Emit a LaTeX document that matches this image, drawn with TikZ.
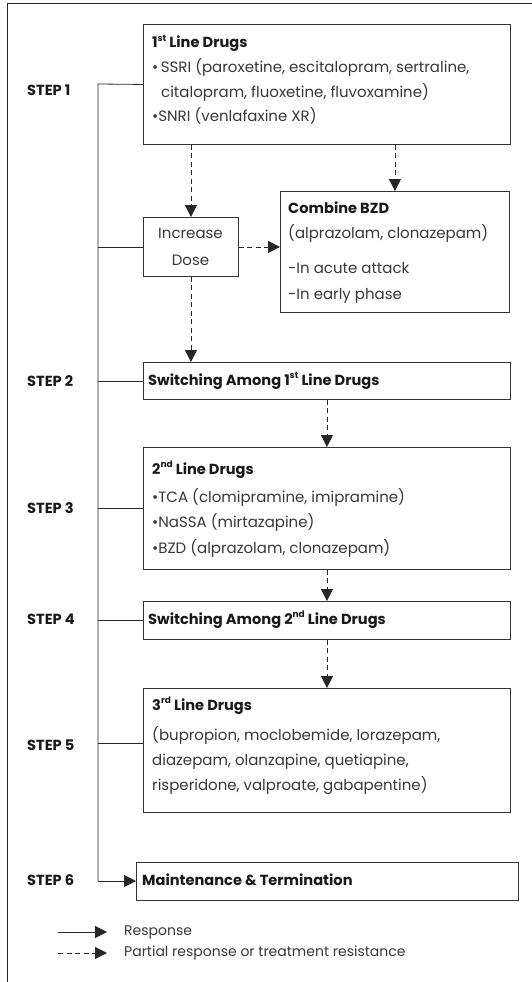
\documentclass[tikz,border=0pt]{standalone}
\usepackage{fontspec}
\setmainfont{Poppins}
\newfontfamily\hdfont{Poppins}
\usetikzlibrary{arrows.meta}
\newcommand{\supr}[1]{\raisebox{0.42em}{\fontsize{9}{10}\selectfont #1}}
\begin{document}
\begin{tikzpicture}[x=1pt,y=-1pt,
  box/.style={draw=black!80, line width=0.9pt, inner sep=0pt, anchor=north west},
  resp/.style={draw=black!85, line width=0.8pt},
  tip/.style={-{Triangle[length=12pt,width=12pt]}},
  partial/.style={resp, dash pattern=on 5pt off 3.5pt, tip},
  body/.style={font=\fontsize{15}{17}\selectfont, text=black!78, anchor=base west, inner sep=0pt},
  legendtext/.style={body, font=\fontsize{14}{16}\selectfont},
  head/.style={font=\hdfont\bfseries\fontsize{14.6}{16}\selectfont, text=black!90, anchor=base west, inner sep=0pt}
]
\useasboundingbox (0,0) rectangle (532,982);
% outer frame
\draw[line width=1pt, black!85] (532,4) -- (7,4) -- (7,982);

% boxes
\node[box, minimum width=367pt, minimum height=120pt] (first) at (143,24) {};
\node[box, minimum width=95pt, minimum height=59pt] (inc) at (143,217) {};
\node[box, minimum width=229pt, minimum height=121pt] (comb) at (280,191) {};
\node[box, minimum width=367pt, minimum height=37pt] (sw1) at (143,362) {};
\node[box, minimum width=367pt, minimum height=122pt] (second) at (143,447) {};
\node[box, minimum width=367pt, minimum height=38pt] (sw2) at (143,601) {};
\node[box, minimum width=367pt, minimum height=124pt] (third) at (143,688) {};
\node[box, minimum width=382pt, minimum height=38pt] (maint) at (136,862) {};

% texts
\node[head] (t1h) at (152,48) {1\supr{st} Line Drugs};
\node[body] (t1a) at (152,72) {•\,SSRI (paroxetine, escitalopram, sertraline,};
\node[body] (t1b) at (161,97) {citalopram, fluoxetine, fluvoxamine)};
\node[body] (t1c) at (152,121) {•SNRI (venlafaxine XR)};

\node[body, anchor=base] (tinc1) at (190.5,238) {Increase};
\node[body, anchor=base] (tinc2) at (190.5,265) {Dose};

\node[head] (tch) at (288,213) {Combine BZD};
\node[body] (tca) at (288,238) {(alprazolam, clonazepam)};
\node[body] (tcb) at (288,273) {-In acute attack};
\node[body] (tcc) at (288,299) {-In early phase};

\node[head] (ts1) at (148,385) {Switching Among 1\supr{st} Line Drugs};

\node[head] (t2h) at (152,474) {2\supr{nd} Line Drugs};
\node[body] (t2a) at (152,502) {•TCA (clomipramine, imipramine)};
\node[body] (t2b) at (152,527) {•NaSSA (mirtazapine)};
\node[body] (t2c) at (152,553) {•BZD (alprazolam, clonazepam)};

\node[head] (ts2) at (148,624) {Switching Among 2\supr{nd} Line Drugs};

\node[head] (t3h) at (152,710) {3\supr{rd} Line Drugs};
\node[body] (t3a) at (152,740) {(bupropion, moclobemide, lorazepam,};
\node[body] (t3b) at (152,765) {diazepam, olanzapine, quetiapine,};
\node[body] (t3c) at (152,790) {risperidone, valproate, gabapentine)};

\node[head] (tm) at (142,885) {Maintenance \& Termination};

% step labels
\node[head] (s1) at (27,95) {STEP 1};
\node[head] (s2) at (27,386) {STEP 2};
\node[head] (s3) at (27,513) {STEP 3};
\node[head] (s4) at (27,624) {STEP 4};
\node[head] (s5) at (27,750) {STEP 5};
\node[head] (s6) at (27,885) {STEP 6};

% trunk
\coordinate (trtop) at (98,84);
\coordinate (trbot) at (98,881);
\coordinate (b5) at (98,743);
\draw[resp] (first.west) -- (trtop) -- (trbot);
\draw[resp] (inc.west) -- (inc.west -| trtop);
\draw[resp] (sw1.west) -- (sw1.west -| trtop);
\draw[resp] (second.west) -- (second.west -| trtop);
\draw[resp] (sw2.west) -- (sw2.west -| trtop);
\draw[resp] (b5) -- (b5 -| third.west);
\draw[resp, tip] (trbot) -- (trbot -| maint.west);

% dashed arrows
\draw[partial] (first.south -| inc.north) -- (inc.north);
\draw[partial] (first.south -| comb.north) -- (comb.north);
\draw[partial] (inc.east) -- (inc.east -| comb.west);
\draw[partial] (inc.south) -- (inc.south |- sw1.north);
\draw[partial] (sw1.south) -- (second.north);
\draw[partial] (second.south) -- (sw2.north);
\draw[partial] (sw2.south) -- (third.north);

% legend
\coordinate (l1a) at (58,932);
\coordinate (l1b) at (107,932);
\coordinate (l2a) at (58,953);
\coordinate (l2b) at (107,953);
\draw[resp, tip] (l1a) -- (l1b);
\draw[partial] (l2a) -- (l2b);
\node[legendtext, anchor=west] (lr) at (124,932) {Response};
\node[legendtext, anchor=west] (lp) at (124,953) {Partial response or treatment resistance};
\end{tikzpicture}
\end{document}
